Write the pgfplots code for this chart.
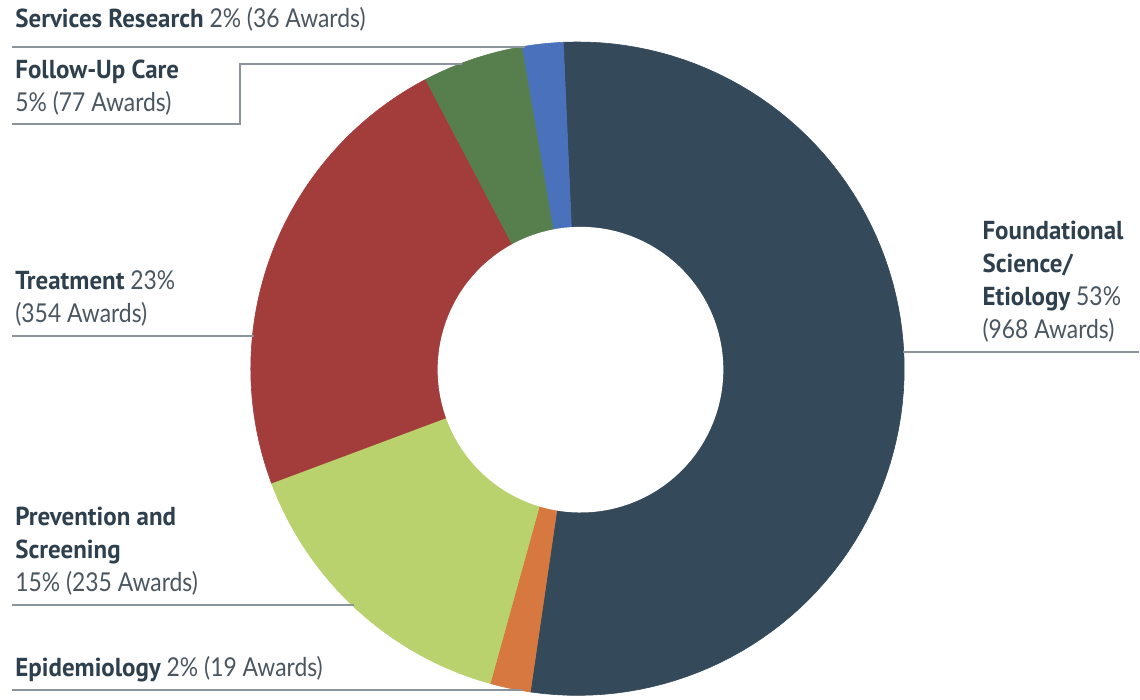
\documentclass[border=0pt]{standalone}
\usepackage{pgfplots}
\pgfplotsset{compat=1.18}
\usepackage{pgfplotstable}
\usepackage{fontspec}
\setmainfont[FakeStretch=0.88]{Lato}
\newfontfamily\hd[FakeStretch=0.96]{PT Sans}

\definecolor{cnavy}{HTML}{34495A}
\definecolor{corange}{HTML}{D6783F}
\definecolor{clgreen}{HTML}{B9D26E}
\definecolor{cred}{HTML}{A33D3C}
\definecolor{cgreen}{HTML}{577F4D}
\definecolor{cblue}{HTML}{4A72BC}
\definecolor{ctxt}{HTML}{2E3F4D}
\definecolor{csub}{HTML}{4A5660}
\definecolor{cline}{HTML}{8C949B}

% share of funding, clockwise from the top
\pgfplotstableread{
label pct col
Foundational 53 cnavy
Epidemiology 2 corange
Prevention 15 clgreen
Treatment 23 cred
FollowUp 5 cgreen
Services 2 cblue
}\slices

\newcommand\bl[1]{{\hd\bfseries\color{ctxt}#1}}

\begin{document}
\begin{tikzpicture}[
  lab/.style={anchor=base west, align=left, inner sep=0pt, text=csub,
    font=\fontsize{13bp}{16.5bp}\selectfont},
  lead/.style={draw=cline, line width=1bp}]
\begin{axis}[width=570bp, height=350bp, scale only axis,
  xmin=0, xmax=1140, ymin=0, ymax=700, y dir=reverse,
  hide axis, clip=false]

\path (axis cs:0,0) rectangle (axis cs:1140,700);

\pgfplotstablegetrowsof{\slices}
\pgfmathtruncatemacro\last{\pgfplotsretval-1}
\gdef\angA{92.5}
\foreach \i in {0,...,\last}{
  \pgfplotstablegetelem{\i}{pct}\of\slices\let\p\pgfplotsretval
  \pgfplotstablegetelem{\i}{col}\of\slices\let\c\pgfplotsretval
  \pgfmathsetmacro\angB{\angA-3.6*\p}
  \edef\cmd{\noexpand\addplot[fill=\c, draw=\c, line width=0.3bp,
      domain=\angB:\angA, samples=90, variable=\noexpand\t]
    ({578+327*cos(\noexpand\t)},{369-327*sin(\noexpand\t)})
    -- (axis cs:578,369) -- cycle;}
  \cmd
  \global\let\angA\angB
}
% hole
\addplot[fill=white, draw=none, domain=0:360, samples=120, variable=\t]
  ({581+143*cos(t)},{370-143*sin(t)});

% labels and leader lines (anchor = baseline of the last line)
\node[lab] at (axis cs:15,28) {\bl{Services Research} 2\% (36 Awards)};
\draw[lead] (axis cs:12,47) -- (axis cs:525,47);

\node[lab] at (axis cs:15,112) {\bl{Follow-Up Care}\\5\% (77 Awards)};
\draw[lead] (axis cs:12,124) -- (axis cs:240,124) -- (axis cs:240,64) -- (axis cs:462,64);

\node[lab] at (axis cs:15,323) {\bl{Treatment} 23\%\\(354 Awards)};
\draw[lead] (axis cs:12,336) -- (axis cs:254,336);

\node[lab] at (axis cs:15,592) {\bl{Prevention and}\\\bl{Screening}\\15\% (235 Awards)};
\draw[lead] (axis cs:12,606) -- (axis cs:354,606);

\node[lab] at (axis cs:15,677) {\bl{Epidemiology} 2\% (19 Awards)};
\draw[lead] (axis cs:12,691) -- (axis cs:522,691);

\node[lab] at (axis cs:983,339) {\bl{Foundational}\\\bl{Science/}\\\bl{Etiology} 53\%\\(968 Awards)};
\draw[lead] (axis cs:904,352) -- (axis cs:1140,352);
\end{axis}
\end{tikzpicture}
\end{document}
